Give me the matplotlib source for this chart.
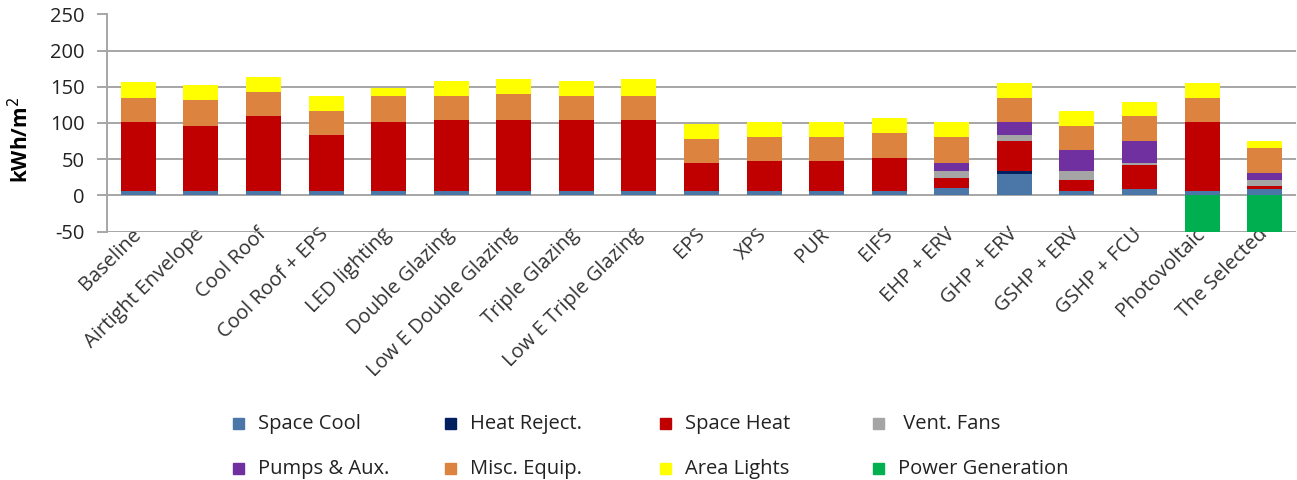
import numpy as np
import matplotlib.pyplot as plt
from matplotlib.patches import Rectangle

plt.rcParams['font.family'] = ['Open Sans', 'DejaVu Sans']
plt.rcParams['axes.unicode_minus'] = False

cases = ['Baseline', 'Airtight Envelope', 'Cool Roof', 'Cool Roof + EPS', 'LED lighting',
         'Double Glazing', 'Low E Double Glazing', 'Triple Glazing', 'Low E Triple Glazing',
         'EPS', 'XPS', 'PUR', 'EIFS', 'EHP + ERV', 'GHP + ERV', 'GSHP + ERV', 'GSHP + FCU',
         'Photovoltaic', 'The Selected']

space_cool   = [5.5, 5.5, 5.5, 5.5, 5.5, 5.5, 5.5, 5.5, 5.5, 5.5, 5.5, 5.5, 5.5, 10.6, 29, 5.5, 8.3, 5.5, 8.3]
heat_reject  = [0, 0, 0, 0, 0, 0, 0, 0, 0, 0, 0, 0, 0, 0, 5, 0, 0, 0, 0]
space_heat   = [95.5, 91, 103.5, 78, 95.5, 98.5, 98.5, 98.5, 98.5, 39, 41.5, 41.5, 46.5, 13.4, 41, 15.3, 33.2, 96, 5.1]
vent_fans    = [0, 0, 0, 0, 0, 0, 0, 0, 0, 0, 0, 0, 0, 10, 8, 13.2, 3.2, 0, 7.4]
pumps_aux    = [0, 0, 0, 0, 0, 0, 0, 0, 0, 0, 0, 0, 0, 10.7, 18.5, 28.7, 31, 0, 10.6]
misc_equip   = [34, 35.5, 33.5, 33.5, 37, 33.5, 36, 33.5, 33.5, 33.5, 34, 34, 34, 36, 33.3, 33.3, 33.3, 33.3, 33.6]
area_lights  = [21, 21, 20.5, 21, 10, 20.5, 21, 20.5, 23.5, 21, 20.5, 20.5, 20.5, 20.7, 21, 20.8, 20.7, 21, 10.7]
power_gen    = [0, 0, 0, 0, 0, 0, 0, 0, 0, 0, 0, 0, 0, 0, 0, 0, 0, -50, -50]

series = [
    ('Space Cool', space_cool, '#4a76a8'),
    ('Heat Reject.', heat_reject, '#002060'),
    ('Space Heat', space_heat, '#c00000'),
    ('Vent. Fans', vent_fans, '#a5a5a5'),
    ('Pumps & Aux.', pumps_aux, '#7030a0'),
    ('Misc. Equip.', misc_equip, '#dc843f'),
    ('Area Lights', area_lights, '#ffff00'),
]
gen_color = '#00b050'

W, H = 1297, 480
fig = plt.figure(figsize=(W / 100, H / 100), dpi=100)
ax = fig.add_axes([107 / W, 1 - 231.5 / H, 1189 / W, 217 / H])

x = np.arange(len(cases))
w = 0.56
bottom = np.zeros(len(cases))
for name, vals, col in series:
    vals = np.array(vals, dtype=float)
    ax.bar(x, vals, w, bottom=bottom, color=col, zorder=3)
    bottom += vals
ax.bar(x, power_gen, w, color=gen_color, zorder=3)

ax.set_xlim(-0.5, len(cases) - 0.5)
ax.set_ylim(-50, 250)
ax.set_yticks(np.arange(-50, 251, 50))
ax.yaxis.grid(True, color='#a6a6a6', linewidth=1.4, zorder=0)
ax.set_axisbelow(True)
for s in ['top', 'right', 'bottom']:
    ax.spines[s].set_visible(False)
ax.spines['left'].set_color('#a6a6a6')
ax.spines['left'].set_linewidth(1.4)
ax.tick_params(axis='y', colors='#a6a6a6', labelcolor='#222222', labelsize=14.5,
               length=7, width=1.4, pad=9)
ax.tick_params(axis='x', length=0, labelsize=14.5, labelcolor='#333333', pad=0)
ax.set_xticks(x)
ax.set_xticklabels(cases, rotation=45, ha='right', va='center', rotation_mode='anchor')
ax.set_ylabel('kWh/m$^2$', fontsize=15, fontweight='bold')
ax.yaxis.set_label_coords(-0.062, 0.42)

# legend laid out like the original: 2 rows x 4 columns
leg_names = [['Space Cool', 'Heat Reject.', 'Space Heat', ' Vent. Fans'],
             ['Pumps & Aux.', 'Misc. Equip.', 'Area Lights', 'Power Generation']]
leg_cols = [['#4a76a8', '#002060', '#c00000', '#a5a5a5'],
            ['#7030a0', '#dc843f', '#ffff00', gen_color]]
col_x = [238, 450, 665, 878]
row_y = [423, 468]
sq = 11
for r in range(2):
    for c in range(4):
        mx, my = col_x[c], row_y[r]
        fig.patches.append(Rectangle(((mx - sq / 2) / W, 1 - (my + sq / 2) / H), sq / W, sq / H,
                                     transform=fig.transFigure, color=leg_cols[r][c]))
        fig.text((mx + 20) / W, 1 - (my - 1.5) / H, leg_names[r][c], fontsize=14.5,
                 color='#222222', ha='left', va='center_baseline')

fig.savefig('out.png', dpi=100)
